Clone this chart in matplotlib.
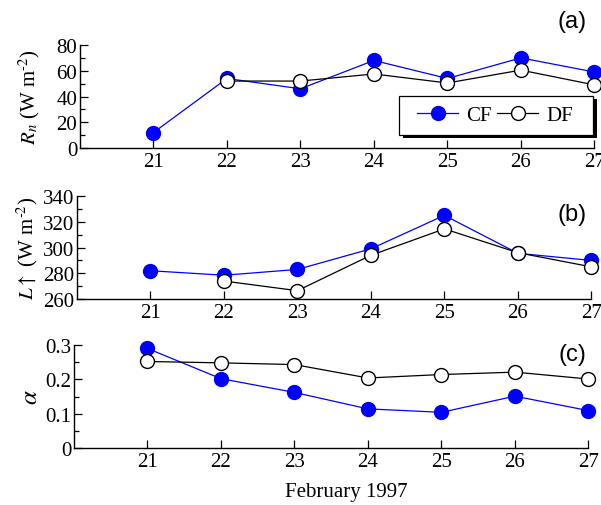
import numpy as np
import matplotlib
matplotlib.use("Agg")
import matplotlib.pyplot as plt
from matplotlib.ticker import MultipleLocator
from matplotlib.patches import Rectangle

days = [21, 22, 23, 24, 25, 26, 27]
rn_cf = [12, 54, 46, 68, 54, 70, 59]
rn_df = [np.nan, 52, 52, 57.5, 50.5, 60.5, 49]
lu_cf = [282, 278.5, 283, 299, 325, 295.5, 290]
lu_df = [np.nan, 274, 266.5, 294, 314.5, 296, 285]
al_cf = [0.290, 0.202, 0.162, 0.114, 0.104, 0.151, 0.109]
al_df = [0.252, 0.248, 0.243, 0.204, 0.214, 0.221, 0.201]

plt.rcParams['font.family'] = ['Liberation Serif', 'DejaVu Serif']
plt.rcParams['mathtext.fontset'] = 'stix'
plt.rcParams['font.size'] = 15

fig = plt.figure(figsize=(6.01, 5.06), dpi=100)
W = 0.856
axa = fig.add_axes([0.133, 0.7055, W, 0.2036])
axb = fig.add_axes([0.128, 0.407, W, 0.2036])
axc = fig.add_axes([0.123, 0.1126, W, 0.2036])

blue = '#0000ff'
def draw(ax, cf, df):
    ax.plot(days, cf, '-o', color=blue, lw=0.9, ms=10, mfc=blue, mec=blue, label='CF', zorder=3, clip_on=False)
    ax.plot(days, df, '-o', color='black', lw=0.9, ms=10, mfc='white', mec='black', mew=1.0, label='DF', zorder=4, clip_on=False)
    ax.set_xlim(20, 27)
    ax.set_xticks(days)
    for s in ['top', 'right']:
        ax.spines[s].set_visible(False)
    for s in ['left', 'bottom']:
        ax.spines[s].set_linewidth(1.0)
    ax.tick_params(axis='both', which='major', direction='in', length=6, width=0.9, pad=2, labelsize=15)
    ax.tick_params(axis='y', which='minor', direction='in', length=3.5, width=0.9)
    ax.tick_params(axis='x', which='major', pad=3)

draw(axa, rn_cf, rn_df)
axa.set_ylim(0, 80)
axa.yaxis.set_major_locator(MultipleLocator(20))
axa.yaxis.set_minor_locator(MultipleLocator(10))
axa.set_ylabel(r'$R_n$ (W m$^{\text{-}2}$)', labelpad=10)

# legend frame with shadow
x0, x1 = 0.621, 0.998
y0, y1 = 0.126, 0.505
sh = Rectangle((x0 + 0.0065, y0 - 0.03), x1 - x0, y1 - y0, transform=axa.transAxes,
               facecolor='black', edgecolor='none', zorder=6, clip_on=False)
fr = Rectangle((x0, y0), x1 - x0, y1 - y0, transform=axa.transAxes,
               facecolor='white', edgecolor='black', lw=0.9, zorder=7, clip_on=False)
axa.add_patch(sh)
axa.add_patch(fr)
leg = axa.legend(ncol=2, loc='center', bbox_to_anchor=(0.807, 0.316), frameon=False,
                 handlelength=1.97, handletextpad=0.38, columnspacing=0.25, borderpad=0.0,
                 numpoints=1, fontsize=15, borderaxespad=0)
leg.set_zorder(8)

draw(axb, lu_cf, lu_df)
axb.set_ylim(260, 340)
axb.yaxis.set_major_locator(MultipleLocator(20))
axb.yaxis.set_minor_locator(MultipleLocator(10))
axb.set_ylabel(r'$L\uparrow$ (W m$^{\text{-}2}$)', labelpad=2)

draw(axc, al_cf, al_df)
axc.set_ylim(0, 0.3)
axc.yaxis.set_minor_locator(MultipleLocator(0.05))
axc.set_yticks([0, 0.1, 0.2, 0.3])
axc.set_yticklabels(['0', '0.1', '0.2', '0.3'])
axc.set_ylabel(r'$\alpha$', labelpad=2, fontsize=18)

fig.text(346 / 601, 1 - 493 / 506, 'February 1997', ha='center', va='center', fontsize=15)

for lab, y in [('(a)', 22), ('(b)', 215), ('(c)', 355)]:
    fig.text(572 / 601, 1 - y / 506, lab, family='Liberation Sans', fontsize=17, ha='center', va='center')

fig.savefig('out.png', dpi=100)
